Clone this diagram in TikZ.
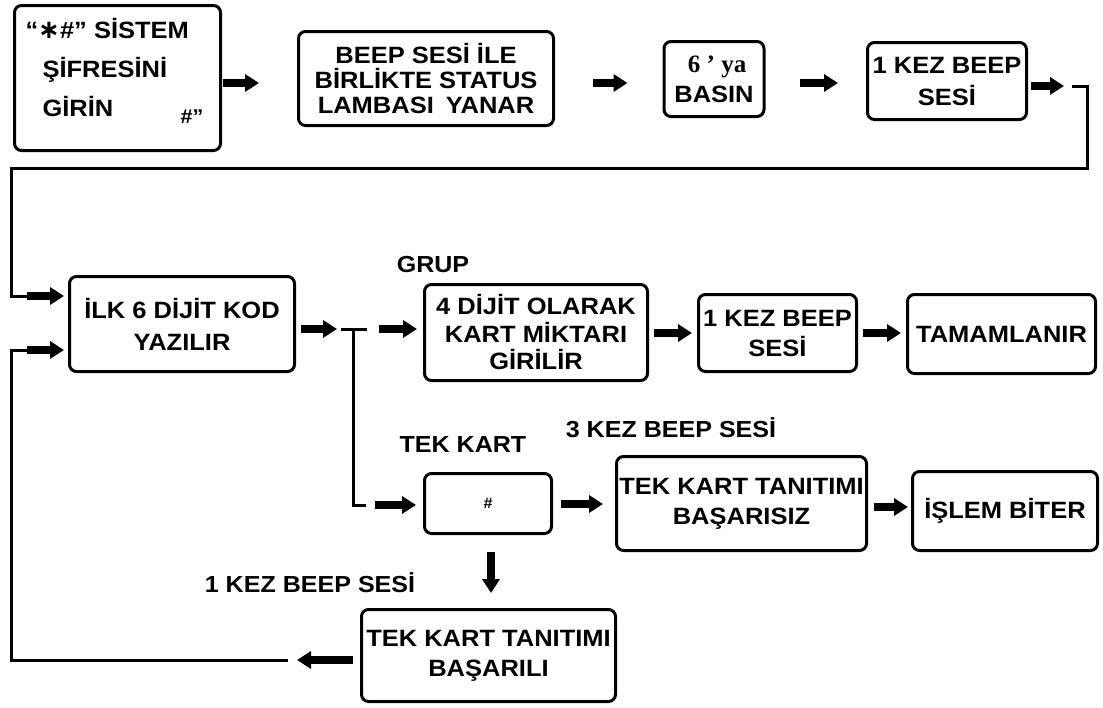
\documentclass[tikz,border=0pt]{standalone}
\usepackage{fontspec}
\setmainfont{Liberation Sans}[FakeStretch=1.08]
\newfontfamily\serifbold{Liberation Serif}
\newfontfamily\symfont{DejaVu Sans}
\usetikzlibrary{arrows.meta}
\newcommand\fsz[2]{\fontsize{#1}{#2}\selectfont}

\begin{document}
\begin{tikzpicture}[x=1pt,y=-1pt,
  flowbox/.style={draw, line width=3pt, rounded corners=7pt, inner sep=2pt,
    align=center, font=\bfseries\fsz{23.6}{30}},
  lbl/.style={inner sep=0pt, font=\bfseries\fsz{23.2}{25}},
  wire/.style={line width=3pt},
  barrow/.style={line width=8pt, -{Triangle[length=14pt,width=17pt]}},
]
\fill[white] (0,0) rectangle (1103,707);
\useasboundingbox (0,0) rectangle (1103,707);

% ---- first row ----
\node[flowbox, inner sep=3pt] (A) at (117.5,78)
  {\parbox[c][139pt][t]{200pt}{\fsz{23.6}{39}\vspace*{10pt}%
   \hspace*{8pt}“{\symfont\fsz{26}{26}∗}\#” SİSTEM\\
   \hspace*{25pt}ŞİFRESİNİ\\
   \hspace*{25pt}GİRİN\hfill\raisebox{-7pt}{\fsz{20}{20}\#”}\hspace*{14pt}}};
\node[flowbox, minimum width=255pt, minimum height=94pt, font=\bfseries\fsz{23.6}{25}] (B) at (426,78.5)
  {BEEP SESİ İLE\\BİRLİKTE STATUS\\LAMBASI\hspace{5pt} YANAR};
\node[flowbox, minimum width=100pt, minimum height=75pt] (C) at (714,79)
  {{\serifbold\fsz{25}{25} 6 ’ ya}\\BASIN};
\node[flowbox, minimum width=159pt, minimum height=77pt, font=\bfseries\fsz{23.6}{32}] (D) at (947,81)
  {1 KEZ BEEP\\SESİ};

% ---- second row ----
\node[flowbox, minimum width=225pt, minimum height=95pt, font=\bfseries\fsz{23.6}{32}] (E) at (182,324)
  {İLK 6 DİJİT KOD\\YAZILIR};
\node[flowbox, minimum width=223pt, minimum height=96pt, font=\bfseries\fsz{23.6}{27.5}] (F) at (536,332.5)
  {4 DİJİT OLARAK\\KART MİKTARI\\GİRİLİR};
\node[flowbox, minimum width=158pt, minimum height=77pt] (G) at (777.5,333)
  {1 KEZ BEEP\\SESİ};
\node[flowbox, minimum width=188pt, minimum height=79pt] (H) at (1001.5,334)
  {TAMAMLANIR};

% ---- third row ----
\node[flowbox, minimum width=127pt, minimum height=60pt, font=\bfseries\fsz{15}{15}] (I) at (488,503.5)
  {\#};
\node[flowbox, minimum width=250pt, minimum height=94pt, font=\bfseries\fsz{23.6}{30}] (J) at (741.5,503.5)
  {TEK KART TANITIMI\\BAŞARISIZ};
\node[flowbox, minimum width=185pt, minimum height=79pt] (K) at (1005,511)
  {İŞLEM BİTER};
\node[flowbox, minimum width=254pt, minimum height=92pt] (L) at (488.5,655.5)
  {TEK KART TANITIMI\\BAŞARILI};

% ---- labels ----
\node[lbl] (grup) at (433,265) {GRUP};
\node[lbl] (tek) at (463,445) {TEK KART};
\node[lbl] (bip3) at (671,428) {3 KEZ BEEP SESİ};
\node[lbl] (bip1) at (310,583) {1 KEZ BEEP SESİ};

% ---- levels and bends ----
\coordinate (r1) at (0,83);
\coordinate (r2) at (0,333);
\coordinate (dOut) at (1068,86);
\coordinate (loopR) at (1087,168);
\coordinate (inTop) at (27,296);
\coordinate (jIn) at (337,329);
\coordinate (jL) at (341,329);
\coordinate (jM) at (353,329);
\coordinate (jR) at (367,329);
\coordinate (jBR) at (366,505);
\coordinate (toF) at (379,329);
\coordinate (toI) at (375,505);
\coordinate (r3) at (0,504);
\coordinate (r4) at (0,507);
\coordinate (lArr) at (297,660);
\coordinate (lLine) at (288,660);
\coordinate (inBot) at (27,350);

% ---- first row arrows ----
\draw[barrow, shorten <=1pt, shorten >=38pt] (A.east |- r1) -- (B.west |- r1);
\draw[barrow, shorten <=38pt, shorten >=35pt] (B.east |- r1) -- (C.west |- r1);
\draw[barrow, shorten <=34pt, shorten >=28pt] (C.east |- r1) -- (D.west |- r1);
\draw[barrow, shorten <=3pt, shorten >=4pt] (D.east |- dOut) -- (dOut);

% return loop to the code entry
\draw[wire] ([xshift=4pt]dOut) -| (loopR) -- (11,168) |- (inTop);
\draw[barrow, shorten >=4pt] (inTop) -- (E.west |- inTop);

% ---- branch after the code entry ----
\draw[barrow, shorten <=5pt] (E.east |- jIn) -- (jIn);
\draw[wire] (jL) -- (jR);
\draw[wire] (jM) |- (jBR);
\draw[barrow, shorten >=6pt] (toF) -- (F.west |- toF);
\draw[barrow, shorten >=7pt] (toI) -- (I.west |- toI);

\draw[barrow, shorten <=5pt, shorten >=5pt] (F.east |- r2) -- (G.west |- r2);
\draw[barrow, shorten <=5pt, shorten >=5pt] (G.east |- r2) -- (H.west |- r2);

\draw[barrow, shorten <=8pt, shorten >=12pt] (I.east |- r3) -- (J.west |- r3);
\draw[barrow, shorten <=6pt, shorten >=3pt] (J.east |- r4) -- (K.west |- r4);
\draw[barrow, shorten <=17pt, shorten >=15pt] ([xshift=3pt]I.south) -- ([xshift=2.5pt]L.north);

% ---- successful single card: back to the code entry ----
\draw[barrow, shorten <=7pt] (L.west |- lArr) -- (lArr);
\draw[wire] (lLine) -- (11,660) |- (inBot);
\draw[barrow, shorten >=4pt] (inBot) -- (E.west |- inBot);
\end{tikzpicture}
\end{document}
